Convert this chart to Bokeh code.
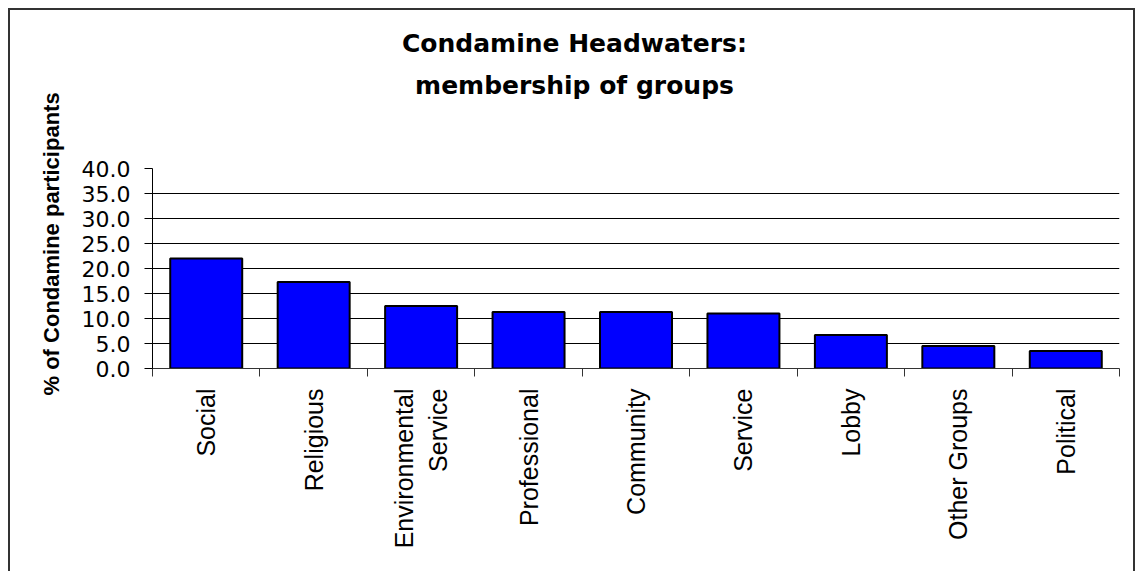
import math

from bokeh.embed import file_html
from bokeh.models import FixedTicker, NumeralTickFormatter, Range1d, Title
from bokeh.plotting import figure
from bokeh.resources import INLINE

# Membership of groups, % of Condamine participants
groups = ["Social", "Religious", "Environmental\nService", "Professional",
          "Community", "Service", "Lobby", "Other Groups", "Political"]
percent = [22.0, 17.3, 12.5, 11.3, 11.3, 11.0, 6.7, 4.5, 3.5]
y_ticks = [0, 5, 10, 15, 20, 25, 30, 35, 40]

title_lines = ["Condamine Headwaters:", "membership of groups"]
y_title = "% of Condamine participants"

n = len(groups)
positions = list(range(n))
boundaries = [i - 0.5 for i in range(n + 1)]

p = figure(
    width=1127, height=563,
    x_range=Range1d(-0.5, n - 0.5), y_range=Range1d(0, 40),
    output_backend="svg", toolbar_location=None,
    min_border_left=142, min_border_right=18,
    min_border_top=158, min_border_bottom=205,
)
p.background_fill_color = "white"
p.border_fill_color = "white"
p.outline_line_color = None
# frame around the whole chart area (open at the bottom edge of the page)
p.styles = {"margin-left": "8px", "margin-top": "8px",
            "border": "2px solid #333333", "border-bottom": "none"}

p.vbar(x=positions, top=percent, width=0.67, bottom=0,
       fill_color="#0000FF", line_color="black", line_width=2)

# horizontal gridlines only
p.xgrid.visible = False
p.ygrid.ticker = FixedTicker(ticks=y_ticks)
p.ygrid.grid_line_color = "black"
p.ygrid.grid_line_width = 1

# value axis
yax = p.yaxis[0]
yax.ticker = FixedTicker(ticks=y_ticks)
yax.formatter = NumeralTickFormatter(format="0.0")
yax.axis_line_color = "black"
yax.major_tick_line_color = "black"
yax.major_tick_out = 8
yax.major_tick_in = 0
yax.minor_tick_line_color = None
yax.major_label_standoff = 14
yax.major_label_text_font = "DejaVu Sans"
yax.major_label_text_font_size = "22px"
yax.major_label_text_color = "black"

# category axis: labels at centres, tick marks between categories
xax = p.xaxis[0]
xax.ticker = FixedTicker(ticks=positions, minor_ticks=boundaries)
xax.major_label_overrides = {i: g for i, g in zip(positions, groups)}
xax.major_label_orientation = math.pi / 2
xax.major_label_text_align = "center"
xax.axis_line_color = "#333333"
xax.major_tick_line_color = None
xax.major_tick_out = 0
xax.major_tick_in = 0
xax.minor_tick_line_color = "#333333"
xax.minor_tick_out = 8
xax.minor_tick_in = 0
xax.major_label_standoff = 12
xax.major_label_text_font = "Liberation Sans"
xax.major_label_text_font_size = "25px"
xax.major_label_text_color = "black"

# gap between the bars and the chart title
p.add_layout(Title(text=" ", text_font_size="1px", standoff=66), "above")

# chart title, two lines (the one added first sits nearest the bars)
title_style = dict(align="left", text_font="DejaVu Sans", text_font_style="bold",
                   text_font_size="25px", text_color="black")
p.add_layout(Title(text=title_lines[1], offset=262.6, standoff=0, **title_style), "above")
p.add_layout(Title(text=title_lines[0], offset=249.5, standoff=22, **title_style), "above")

# value axis title
p.add_layout(Title(text=y_title, align="left", offset=-27, standoff=30,
                   text_font="Liberation Sans", text_font_style="bold",
                   text_font_size="22px", text_color="black"), "left")

open("out.html", "w").write(file_html(p, INLINE))
